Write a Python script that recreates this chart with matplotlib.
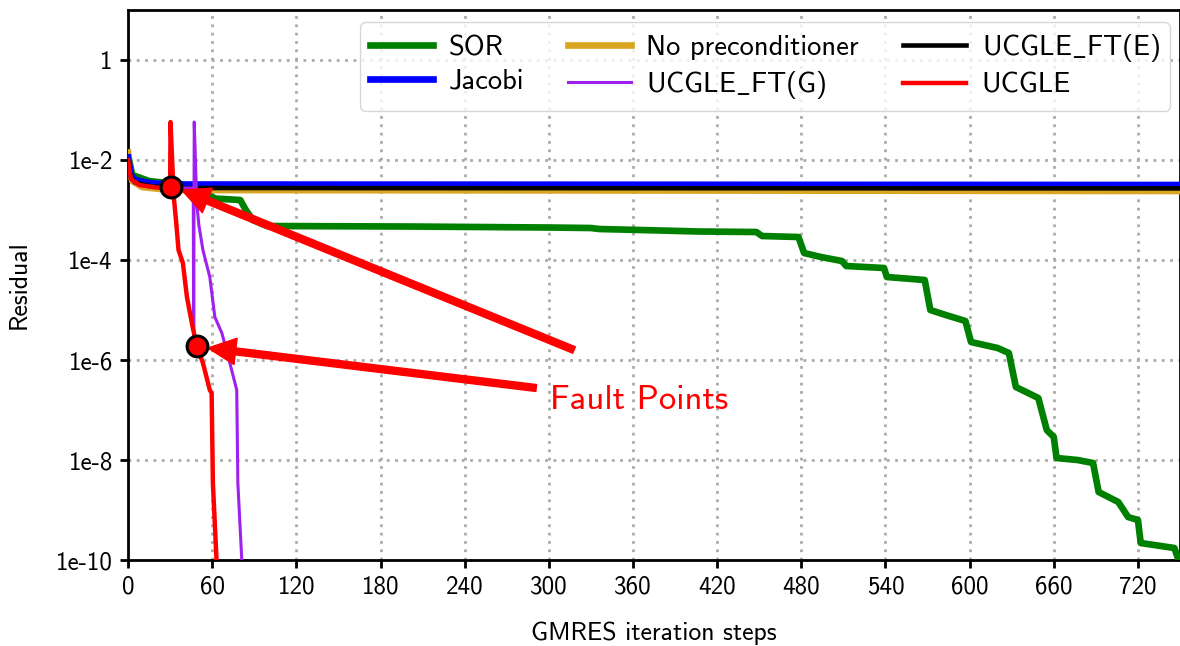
import numpy as np
import matplotlib
matplotlib.use("Agg")
import matplotlib.pyplot as plt

plt.rcParams['font.family'] = ['cmss10', 'DejaVu Sans']
plt.rcParams['mathtext.fontset'] = 'cm'
plt.rcParams['axes.unicode_minus'] = False

# residual histories, stored as log10(residual)
sor_x = [0, 3, 15, 40, 55, 58, 62, 80, 84, 89, 99, 200, 300, 330, 336, 380, 407, 448,
         452, 478, 482, 494, 509, 512, 539, 541, 568, 572, 583, 597, 601, 620, 628,
         633, 649, 655, 660, 662, 677, 688, 692, 706, 713, 720, 722, 746, 749]
sor_log = [-1.9, -2.3, -2.42, -2.5, -2.58, -2.7, -2.77, -2.8, -3.0, -3.2, -3.32, -3.33,
           -3.35, -3.36, -3.38, -3.41, -3.43, -3.44, -3.52, -3.54, -3.86, -3.94, -4.02,
           -4.12, -4.16, -4.34, -4.4, -5.0, -5.1, -5.22, -5.64, -5.76, -5.86, -6.54,
           -6.76, -7.4, -7.54, -7.96, -8.0, -8.06, -8.64, -8.84, -9.14, -9.2, -9.66,
           -9.76, -10.0]

jacobi_x = [0, 2, 5, 15, 30, 750]
jacobi_log = [-1.95, -2.3, -2.4, -2.46, -2.49, -2.5]

noprec_x = [0, 1, 3, 10, 30, 750]
noprec_log = [-1.85, -2.2, -2.42, -2.54, -2.6, -2.62]

ft_e_x = [0, 2, 5, 15, 30, 750]
ft_e_log = [-2.0, -2.35, -2.45, -2.52, -2.56, -2.568]

ft_g_x = [0, 2, 8, 20, 46.5, 46.8, 47.2, 49.0, 50.5, 53.4, 58.3, 61.9, 66.9, 72.6,
          77.5, 78.3, 81.1]
ft_g_log = [-2.0, -2.38, -2.5, -2.55, -2.56, -5.6, -1.24, -2.86, -3.3, -3.8, -4.34,
            -5.14, -5.46, -6.06, -6.6, -8.46, -10.0]

ucgle_x = [0, 2, 8, 20, 30, 30.3, 32.5, 34.5, 36, 39.1, 42, 45.5, 48.9, 53.4, 58.3,
           59.6, 60.5, 63.1]
ucgle_log = [-2.0, -2.38, -2.5, -2.55, -2.56, -1.24, -2.7, -3.3, -3.8, -4.06, -4.74,
             -5.26, -5.72, -6.06, -6.6, -6.66, -8.46, -10.0]

fault_x = [30.6, 48.9]
fault_log = [-2.54, -5.72]

xticks = np.arange(0, 721, 60)
ytick_exp = [0, -2, -4, -6, -8, -10]
ytick_labels = ['1', '1e-2', '1e-4', '1e-6', '1e-8', '1e-10']

fig = plt.figure(figsize=(11.8, 6.46), dpi=100)
ax = fig.add_axes([0.1085, 0.1331, 0.8915, 0.8514])
ax.set_yscale('log')

p = lambda v: 10.0 ** np.array(v)
ax.plot(sor_x, p(sor_log), color='green', lw=4.8, label='SOR', zorder=3)
ax.plot(jacobi_x, p(jacobi_log), color='blue', lw=4.8, label='Jacobi', zorder=4)
ax.plot(noprec_x, p(noprec_log), color='goldenrod', lw=4.8, label='No preconditioner', zorder=3.5)
ax.plot(ft_g_x, p(ft_g_log), color='#a020f0', lw=2.2, label=r'UCGLE$\_$FT(G)', zorder=5)
ax.plot(ft_e_x, p(ft_e_log), color='black', lw=3.3, label=r'UCGLE$\_$FT(E)', zorder=4.5)
ax.plot(ucgle_x, p(ucgle_log), color='red', lw=3.2, label='UCGLE', zorder=6)

ax.plot(fault_x, p(fault_log), 'o', color='red', markersize=15,
        markeredgecolor='black', markeredgewidth=2.2, zorder=8)

# arrows pointing from the caption to the two fault points
arrow = dict(facecolor='red', edgecolor='red', width=5, headwidth=19,
             headlength=20, shrink=0)
ax.annotate('', xy=(38.2, 10 ** -2.6), xytext=(318, 10 ** -5.8),
            arrowprops=arrow, zorder=7)
ax.annotate('', xy=(57, 10 ** -5.76), xytext=(291, 10 ** -6.56),
            arrowprops=arrow, zorder=7)
ax.text(301, 10 ** -6.8, 'Fault Points', color='red', fontsize=25,
        ha='left', va='center')

ax.set_xlim(0, 750)
ax.set_ylim(1e-10, 10)
ax.set_xticks(xticks)
ax.set_yticks(p(ytick_exp), ytick_labels)
ax.minorticks_off()
ax.tick_params(labelsize=18, length=6, width=2, pad=5)
for s in ax.spines.values():
    s.set_linewidth(2)

ax.set_axisbelow(True)
ax.grid(True, color='#aaaaaa', linestyle=(0, (1, 2)), lw=2)

ax.set_xlabel('GMRES iteration steps', fontsize=18.5)
ax.set_ylabel('Residual', fontsize=18.5)
ax.xaxis.set_label_coords(0.5, -0.112)
ax.yaxis.set_label_coords(-0.093, 0.5)

ax.legend(loc='upper right', bbox_to_anchor=(0.9905, 0.978), borderaxespad=0,
          ncol=3, fontsize=20.5, handlelength=2.2, handletextpad=0.55,
          labelspacing=0.3, columnspacing=1.55, borderpad=0.35)

fig.savefig('out.png', dpi=100)
